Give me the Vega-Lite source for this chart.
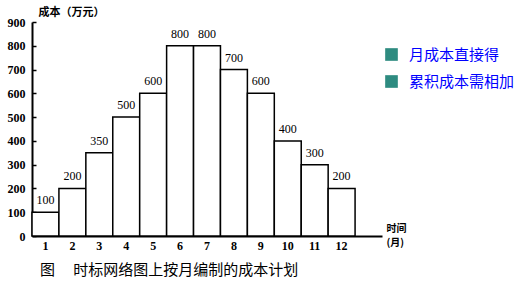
{
  "$schema": "https://vega.github.io/schema/vega-lite/v6.json",
  "width": 350,
  "height": 214,
  "autosize": {"type": "none"},
  "padding": {"left": 32, "top": 22, "right": 148, "bottom": 50},
  "background": "white",
  "config": {"view": {"stroke": null}},
  "title": {
    "text": "图　 时标网络图上按月编制的成本计划",
    "orient": "bottom",
    "anchor": "start",
    "frame": "group",
    "dx": 8,
    "offset": 12,
    "font": "Noto Sans CJK SC",
    "fontSize": 15,
    "fontWeight": "normal",
    "color": "black"
  },
  "datasets": {
    "cost": [
      {"month": 1, "cost": 100},
      {"month": 2, "cost": 200},
      {"month": 3, "cost": 350},
      {"month": 4, "cost": 500},
      {"month": 5, "cost": 600},
      {"month": 6, "cost": 800},
      {"month": 7, "cost": 800},
      {"month": 8, "cost": 700},
      {"month": 9, "cost": 600},
      {"month": 10, "cost": 400},
      {"month": 11, "cost": 300},
      {"month": 12, "cost": 200}
    ],
    "notes": [
      {"note": "月成本直接得"},
      {"note": "累积成本需相加"}
    ]
  },
  "layer": [
    {
      "data": {"name": "cost"},
      "encoding": {
        "x": {
          "field": "month",
          "type": "ordinal",
          "scale": {"domain": [1,2,3,4,5,6,7,8,9,10,11,12,13], "paddingInner": 0, "paddingOuter": 0},
          "axis": {
            "title": ["时间", "(月)"],
            "titleX": 354,
            "titleY": -13,
            "titleAlign": "left",
            "titleBaseline": "top",
            "titleAnchor": null,
            "titleAngle": 0,
            "titleFont": "Noto Sans CJK SC",
            "titleFontSize": 10,
            "titleFontWeight": "bold",
            "titleLineHeight": 14,
            "titleColor": "black",
            "labelAngle": 0,
            "labelExpr": "datum.value == 13 ? '' : datum.label",
            "labelFont": "Times New Roman",
            "labelFontSize": 12,
            "labelFontWeight": "bold",
            "labelColor": "black",
            "labelPadding": 4,
            "labelOverlap": false,
            "ticks": false,
            "domainColor": "black",
            "domainWidth": 2
          }
        },
        "y": {
          "field": "cost",
          "type": "quantitative",
          "scale": {"domain": [0, 900], "nice": false},
          "axis": {
            "title": "成本（万元）",
            "titleX": 6,
            "titleY": -10,
            "titleAngle": 0,
            "titleAlign": "left",
            "titleBaseline": "middle",
            "titleAnchor": null,
            "titleFont": "Noto Sans CJK SC",
            "titleFontSize": 11,
            "titleFontWeight": "bold",
            "titleColor": "black",
            "values": [0,100,200,300,400,500,600,700,800,900],
            "tickCount": 10,
            "labelOverlap": false,
            "grid": false,
            "labelFont": "Times New Roman",
            "labelFontSize": 12,
            "labelFontWeight": "bold",
            "labelColor": "black",
            "tickSize": -4,
            "tickColor": "black",
            "tickWidth": 1.5,
            "labelPadding": 11,
            "domainColor": "black",
            "domainWidth": 2
          }
        }
      },
      "layer": [
        {
          "mark": {"type": "bar", "fill": "white", "stroke": "black", "strokeWidth": 1.5}
        },
        {
          "mark": {"type": "text", "baseline": "bottom", "dy": -5, "font": "Times New Roman", "fontSize": 12, "color": "black"},
          "encoding": {
            "text": {"field": "cost", "type": "quantitative"}
          }
        }
      ]
    },
    {
      "data": {"name": "notes"},
      "mark": {"type": "point", "filled": true, "opacity": 0},
      "encoding": {
        "fill": {
          "field": "note",
          "type": "nominal",
          "sort": null,
          "scale": {"range": ["#2e8b80", "#2e8b80"]},
          "legend": {
            "title": null,
            "orient": "none",
            "legendX": 352,
            "legendY": 25,
            "padding": 0,
            "symbolType": "square",
            "symbolSize": 160,
            "symbolOpacity": 1,
            "symbolStrokeWidth": 0,
            "labelColor": "#0000ff",
            "labelFont": "Noto Sans CJK SC",
            "labelFontSize": 15,
            "labelOffset": 10,
            "rowPadding": 11,
            "labelLimit": 200
          }
        }
      }
    }
  ]
}
